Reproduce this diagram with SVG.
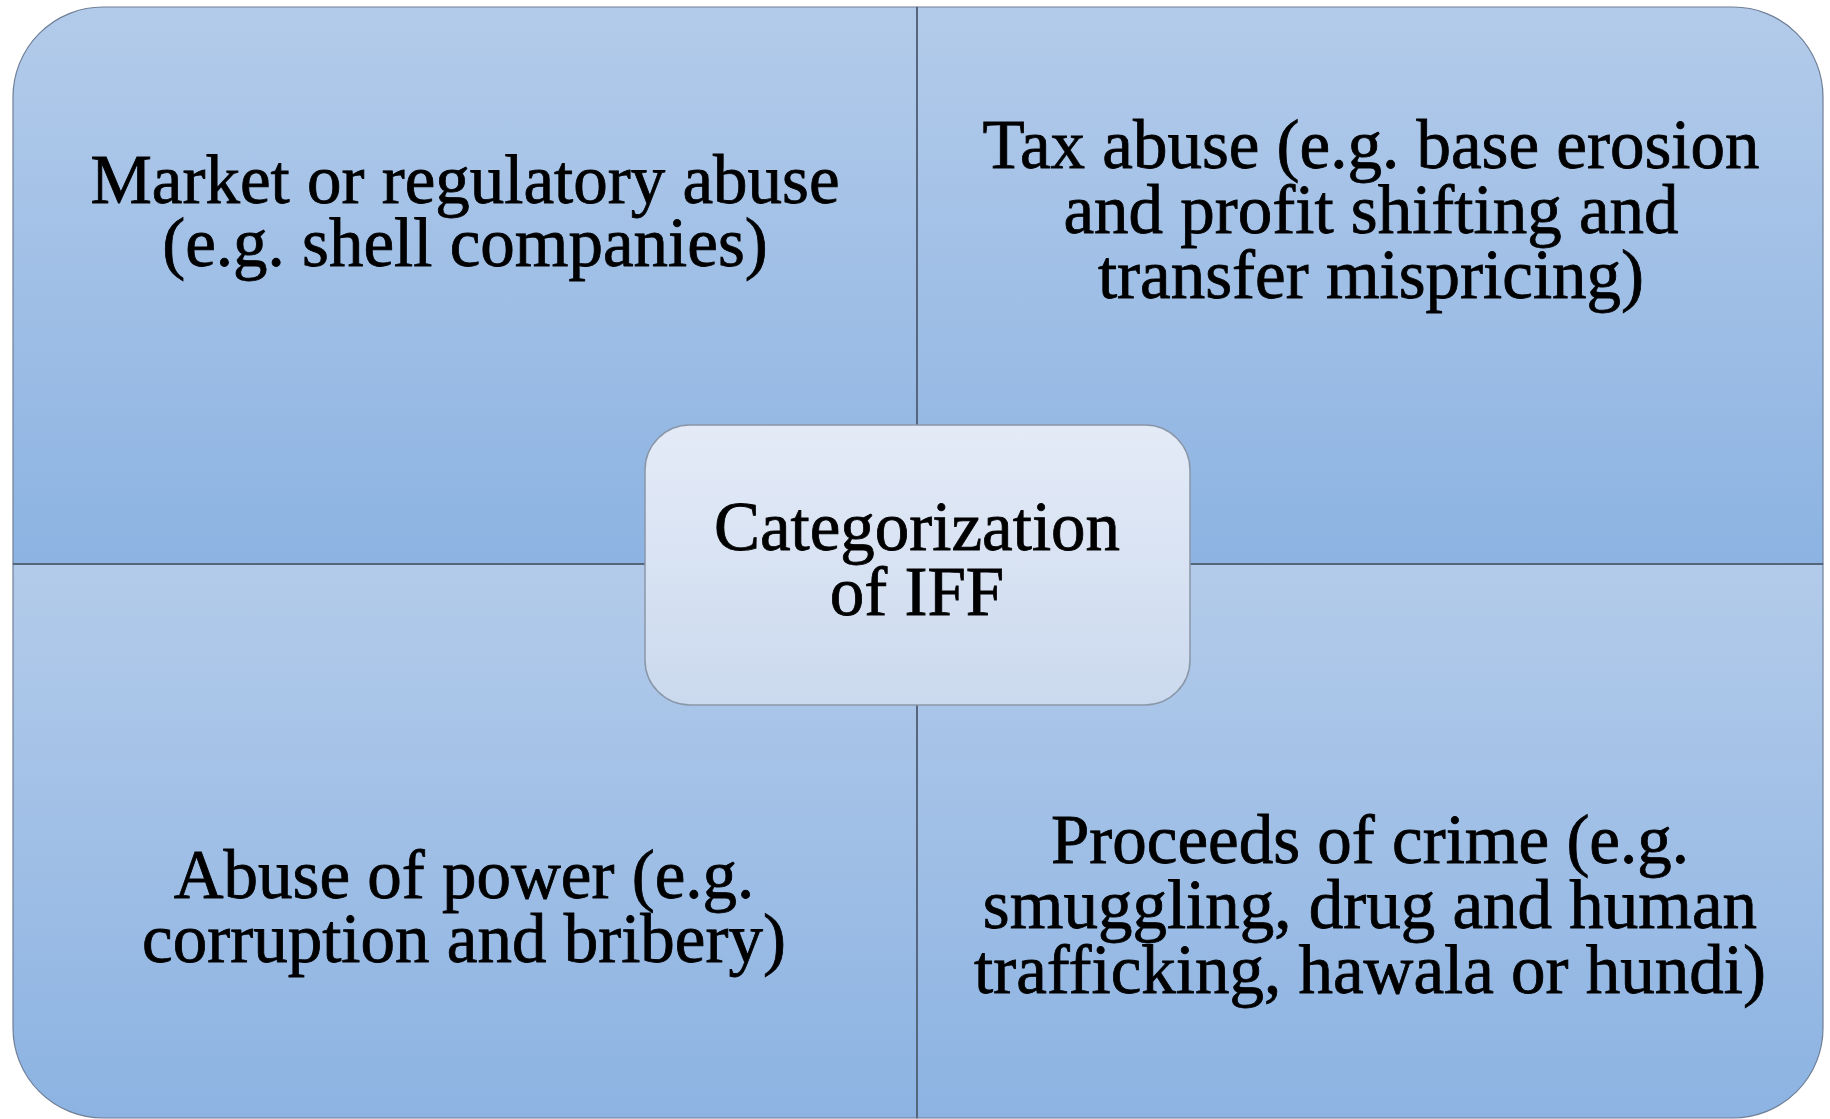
<svg xmlns="http://www.w3.org/2000/svg" width="1830" height="1119" viewBox="0 0 1830 1119">
  <defs>
    <linearGradient id="quadFill" x1="0" y1="0" x2="0" y2="1">
      <stop offset="0" stop-color="#b3cbea"/>
      <stop offset="1" stop-color="#8cb3e2"/>
    </linearGradient>
    <linearGradient id="hubFill" x1="0" y1="0" x2="0" y2="1">
      <stop offset="0" stop-color="#e4ebf7"/>
      <stop offset="1" stop-color="#cbd9ee"/>
    </linearGradient>
  </defs>
  <style>
    .quad { fill: url(#quadFill); stroke: #6f7f96; stroke-width: 1.2; }
    .hub { fill: url(#hubFill); stroke: #8a97a8; stroke-width: 1.5; }
    .divider { stroke: #56667c; stroke-width: 2; fill: none; }
    .label { font-family: "Liberation Serif", "Times New Roman", serif; font-size: 69px; fill: #000; stroke: #000; stroke-width: 0.8; text-anchor: middle; }
  </style>
  <rect width="1830" height="1119" fill="#ffffff"/>

  <!-- quadrant: top left -->
  <g id="market-abuse">
    <path class="quad" d="M13,564 V97 A90,90 0 0 1 103,7 H917 V564 Z"/>
    <text class="label" x="465" y="203">Market or regulatory abuse</text>
    <text class="label" x="465" y="266">(e.g. shell companies)</text>
  </g>

  <!-- quadrant: top right -->
  <g id="tax-abuse">
    <path class="quad" d="M917,7 H1733 A90,90 0 0 1 1823,97 V564 H917 Z"/>
    <text class="label" x="1371" y="168">Tax abuse (e.g. base erosion</text>
    <text class="label" x="1371" y="233">and profit shifting and</text>
    <text class="label" x="1371" y="298">transfer mispricing)</text>
  </g>

  <!-- quadrant: bottom left -->
  <g id="abuse-of-power">
    <path class="quad" d="M13,564 H917 V1118 H103 A90,90 0 0 1 13,1028 Z"/>
    <text class="label" x="464" y="898">Abuse of power (e.g.</text>
    <text class="label" x="464" y="962">corruption and bribery)</text>
  </g>

  <!-- quadrant: bottom right -->
  <g id="proceeds-of-crime">
    <path class="quad" d="M917,564 H1823 V1028 A90,90 0 0 1 1733,1118 H917 Z"/>
    <text class="label" x="1370" y="863">Proceeds of crime (e.g.</text>
    <text class="label" x="1370" y="928">smuggling, drug and human</text>
    <text class="label" x="1370" y="993">trafficking, hawala or hundi)</text>
  </g>

  <!-- dividing lines between the quadrants -->
  <g id="connectors">
    <line class="divider" x1="917" y1="7" x2="917" y2="1118"/>
    <line class="divider" x1="13" y1="564" x2="1823" y2="564"/>
  </g>

  <!-- central hub -->
  <g id="categorization">
    <rect class="hub" x="645" y="425" width="545" height="280" rx="45" ry="45"/>
    <text class="label" x="917" y="550">Categorization</text>
    <text class="label" x="917" y="615">of IFF</text>
  </g>
</svg>
